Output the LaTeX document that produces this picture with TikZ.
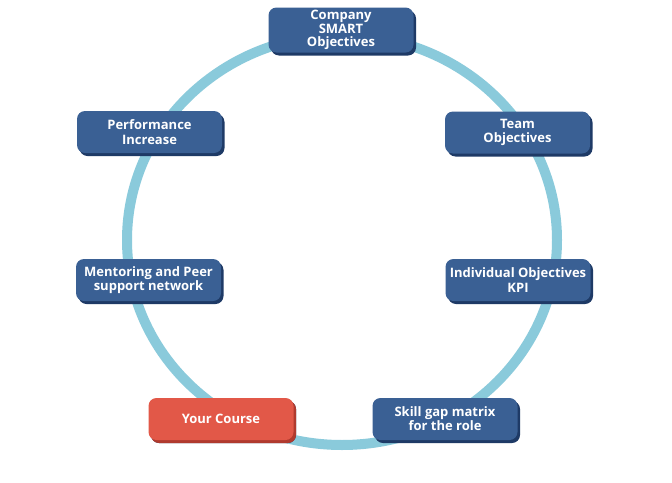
\documentclass[tikz,border=0pt]{standalone}
\usepackage{fontspec}
\setmainfont{Open Sans}
\usetikzlibrary{shadows}
\definecolor{ringblue}{RGB}{138,202,219}
\definecolor{boxblue}{RGB}{58,96,148}
\definecolor{boxshade}{RGB}{30,58,102}
\definecolor{boxred}{RGB}{226,88,72}
\definecolor{redshade}{RGB}{176,58,46}
\tikzset{
  stagebox/.style={draw=none, rounded corners=8pt, minimum width=145pt, minimum height=42pt,
    inner sep=0pt, align=center, text=white, font=\bfseries\fontsize{13}{14.2}\selectfont,
    fill=boxblue,
    drop shadow={shadow xshift=2.5pt, shadow yshift=-3pt, fill=boxshade, opacity=1}},
  redbox/.style={stagebox, fill=boxred,
    drop shadow={shadow xshift=2.5pt, shadow yshift=-3pt, fill=redshade, opacity=1}},
  ring/.style={draw=ringblue, line width=10pt}
}
\begin{document}
\begin{tikzpicture}[x=1pt,y=-1pt]
\useasboundingbox (0,0) rectangle (672,482);
\fill[white] (0,0) rectangle (672,482);
\draw[ring] (342,240) ellipse [x radius=215, y radius=205];
\node[stagebox, minimum height=45pt, font=\bfseries\fontsize{13}{13.6}\selectfont] (company) at (341,30) {Company\\SMART\\Objectives};
\node[stagebox] (perf) at (149.5,132) {Performance\\Increase};
\node[stagebox] (team) at (517.5,132.5) {Team\\Objectives};
\node[stagebox] (mentor) at (148.5,280) {Mentoring and Peer\\support network};
\node[stagebox] (indiv) at (518,280) {Individual Objectives\\KPI};
\node[redbox] (course) at (221,419) {Your Course};
\node[stagebox] (skill) at (445,419) {Skill gap matrix\\for the role};
\end{tikzpicture}
\end{document}
